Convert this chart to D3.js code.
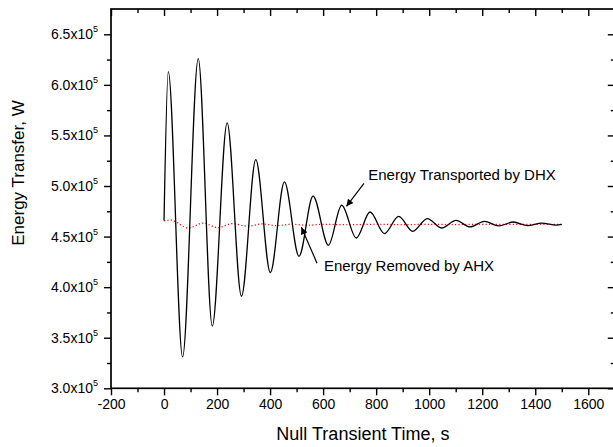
<!DOCTYPE html>
<html>
<head>
<meta charset="utf-8">
<script src="https://cdn.jsdelivr.net/npm/d3@7"></script>
<style>
  html, body { margin: 0; padding: 0; background: #fff; }
  svg { display: block; font-family: "Liberation Sans", Arial, sans-serif; }
</style>
</head>
<body>
<svg id="chart" width="613" height="447"></svg>
<script>
// ---- data ----
const dhxTime = [0, 16, 70, 129, 182, 238, 292, 346, 401, 454, 509, 562, 620, 670, 725, 777, 831, 885, 938, 993, 1047, 1101, 1154, 1208, 1262, 1317, 1371, 1425, 1479, 1500];
const dhxEnergy = [466000, 613000, 331000, 626000, 361500, 562500, 391000, 526000, 414500, 504000, 430500, 490000, 441500, 481000, 448600, 474300, 453000, 470000, 455200, 467800, 458500, 466100, 459500, 465100, 460500, 464400, 460900, 463400, 461300, 462100];

const ahxTime = [0, 25, 92, 148, 203, 258, 315, 370, 425, 480, 540, 600, 700, 800, 900, 1000, 1100, 1200, 1300, 1400, 1500];
const ahxEnergy = [465500, 466300, 458500, 463400, 458800, 462800, 460300, 462500, 460800, 462200, 461200, 462100, 461700, 462200, 461800, 462100, 461900, 462100, 462000, 462100, 462100];

const xMajorTicks = [-200, 0, 200, 400, 600, 800, 1000, 1200, 1400, 1600];
const xTickLabels = ["-200", "0", "200", "400", "600", "800", "1000", "1200", "1400", "1600"];
const xMinorTicks = [-100, 100, 300, 500, 700, 900, 1100, 1300, 1500];
const yMajorTicks = [300000, 350000, 400000, 450000, 500000, 550000, 600000, 650000];
const yMinorTicks = [325000, 375000, 425000, 475000, 525000, 575000, 625000];
const yTickMantissa = ["3.0", "3.5", "4.0", "4.5", "5.0", "5.5", "6.0", "6.5"];

const xTitle = "Null Transient Time, s";
const yTitle = "Energy Transfer, W";

const annotationText = ["Energy Transported by DHX", "Energy Removed by AHX"];
const annotationAnchor = [[770, 506300], [603, 416100]];     // text start (time, energy)
const arrowTail = [[754, 502600], [577, 423700]];
const arrowTip = [[688, 479900], [518, 459200]];

// ---- layout ----
const svg = d3.select("#chart");
const x = d3.scaleLinear().domain([-200, 1700]).range([111, 614.8]);
const y = d3.scaleLinear().domain([300000, 675000]).range([388.3, 9.0]);
const x0 = x.range()[0], x1 = x.range()[1], yB = y.range()[0], yT = y.range()[1];

const defs = svg.append("defs");
defs.append("marker").attr("id", "arrow").attr("viewBox", "0 0 10 10")
  .attr("refX", 10).attr("refY", 5).attr("markerWidth", 9).attr("markerHeight", 7)
  .attr("markerUnits", "userSpaceOnUse").attr("orient", "auto")
  .append("path").attr("d", "M0,0 L10,5 L0,10 Z").attr("fill", "#000");

function styleAxis(g) {
  g.select(".domain").remove();
  g.selectAll(".tick line").attr("stroke", "#000").attr("stroke-width", 1.4);
  g.selectAll(".tick text").attr("fill", "#000").attr("font-size", 14)
    .attr("font-family", "'Liberation Sans', Arial, sans-serif");
}

// bottom axis
svg.append("g").attr("transform", `translate(0,${yB})`)
  .call(d3.axisBottom(x).tickValues(xMajorTicks).tickSize(7).tickPadding(4)
    .tickFormat((d, i) => xTickLabels[i]))
  .call(styleAxis);
svg.append("g").attr("transform", `translate(0,${yB})`)
  .call(d3.axisBottom(x).tickValues(xMinorTicks).tickSize(4).tickFormat(""))
  .call(styleAxis);
// top axis (inward)
svg.append("g").attr("transform", `translate(0,${yT})`)
  .call(d3.axisTop(x).tickValues(xMajorTicks).tickSize(-7).tickFormat(""))
  .call(styleAxis);
svg.append("g").attr("transform", `translate(0,${yT})`)
  .call(d3.axisTop(x).tickValues(xMinorTicks).tickSize(-4).tickFormat(""))
  .call(styleAxis);
// left axis
const leftAxis = svg.append("g").attr("transform", `translate(${x0},0)`)
  .call(d3.axisLeft(y).tickValues(yMajorTicks).tickSize(7).tickPadding(6))
  .call(styleAxis);
leftAxis.selectAll(".tick text").each(function(d, i) {
  const t = d3.select(this);
  t.text("");
  t.append("tspan").text(yTickMantissa[i] + "x10");
  t.append("tspan").attr("dy", -7).attr("font-size", 9).text("5");
});
svg.append("g").attr("transform", `translate(${x0},0)`)
  .call(d3.axisLeft(y).tickValues(yMinorTicks).tickSize(4).tickFormat(""))
  .call(styleAxis);
// right axis (inward)
svg.append("g").attr("transform", `translate(${x1},0)`)
  .call(d3.axisRight(y).tickValues(yMajorTicks).tickSize(-7).tickFormat(""))
  .call(styleAxis);
svg.append("g").attr("transform", `translate(${x1},0)`)
  .call(d3.axisRight(y).tickValues(yMinorTicks).tickSize(-4).tickFormat(""))
  .call(styleAxis);

// frame
svg.append("rect").attr("x", x0).attr("y", yT).attr("width", x1 - x0).attr("height", yB - yT)
  .attr("fill", "none").attr("stroke", "#000").attr("stroke-width", 1.7);

// series
const dhx = dhxTime.map((t, i) => [t, dhxEnergy[i]]);
const ahx = ahxTime.map((t, i) => [t, ahxEnergy[i]]);
const line = d3.line().x(d => x(d[0])).y(d => y(d[1])).curve(d3.curveMonotoneX);

svg.append("path").datum(ahx).attr("d", line).attr("fill", "none")
  .attr("stroke", "#ff0000").attr("stroke-width", 1.2).attr("stroke-dasharray", "1.2,2.2");
svg.append("path").datum(dhx).attr("d", line).attr("fill", "none")
  .attr("stroke", "#000").attr("stroke-width", 1.3);

// annotations
annotationText.forEach((txt, i) => {
  svg.append("line")
    .attr("x1", x(arrowTail[i][0])).attr("y1", y(arrowTail[i][1]))
    .attr("x2", x(arrowTip[i][0])).attr("y2", y(arrowTip[i][1]))
    .attr("stroke", "#000").attr("stroke-width", 1.2).attr("marker-end", "url(#arrow)");
  svg.append("text").attr("x", x(annotationAnchor[i][0])).attr("y", y(annotationAnchor[i][1]))
    .attr("font-size", 15).attr("fill", "#000").text(txt);
});

// axis titles
svg.append("text").attr("x", (x0 + x1) / 2).attr("y", 440).attr("text-anchor", "middle")
  .attr("font-size", 18).attr("fill", "#000").text(xTitle);
svg.append("text").attr("transform", "translate(23.5,173) rotate(-90)").attr("text-anchor", "middle")
  .attr("font-size", 17).attr("fill", "#000").text(yTitle);
</script>
</body>
</html>
